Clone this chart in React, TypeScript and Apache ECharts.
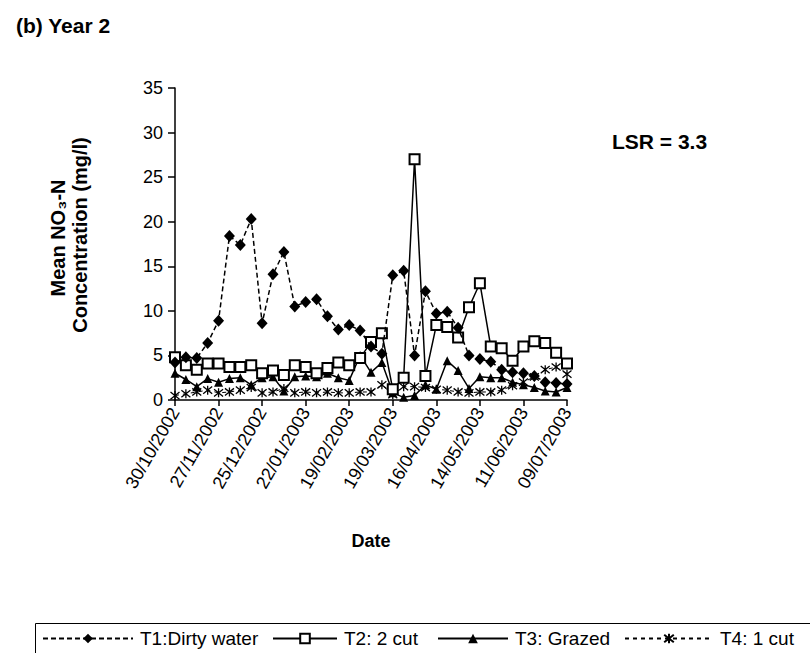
import React, { useEffect, useRef } from "react";
import * as echarts from "echarts";

// Sampling dates (dd/mm/yyyy)
const sampleDates = [
  "30/10/2002", "06/11/2002", "13/11/2002", "20/11/2002", "27/11/2002", "04/12/2002",
  "11/12/2002", "18/12/2002", "25/12/2002", "01/01/2003", "08/01/2003", "15/01/2003",
  "22/01/2003", "29/01/2003", "05/02/2003", "12/02/2003", "19/02/2003", "26/02/2003",
  "05/03/2003", "12/03/2003", "19/03/2003", "26/03/2003", "02/04/2003", "09/04/2003",
  "16/04/2003", "23/04/2003", "30/04/2003", "07/05/2003", "14/05/2003", "21/05/2003",
  "28/05/2003", "04/06/2003", "11/06/2003", "18/06/2003", "25/06/2003", "02/07/2003",
  "09/07/2003",
];

// Mean NO3-N concentration (mg/l)
const t1DirtyWater = [
  4.2, 4.8, 4.7, 6.4, 8.9, 18.4, 17.4, 20.3, 8.6, 14.1, 16.6, 10.5, 11.0, 11.3, 9.4,
  7.9, 8.4, 7.8, 6.0, 5.2, 14.0, 14.5, 5.0, 12.2, 9.7, 9.9, 8.1, 5.0, 4.6, 4.3, 3.4,
  3.1, 3.0, 2.7, 2.0, 1.9, 1.8,
];
const t2TwoCut = [
  4.8, 3.9, 3.4, 4.1, 4.1, 3.7, 3.7, 3.9, 3.0, 3.3, 2.8, 3.9, 3.7, 3.0, 3.6, 4.2, 3.9,
  4.7, 6.5, 7.5, 1.2, 2.5, 27.0, 2.7, 8.4, 8.2, 7.0, 10.4, 13.1, 6.0, 5.8, 4.4, 6.0,
  6.6, 6.4, 5.3, 4.1,
];
const t3Grazed = [
  3.0, 2.3, 1.5, 2.4, 2.0, 2.4, 2.5, 1.7, 2.5, 2.6, 1.0, 2.6, 2.7, 2.6, 3.0, 2.5, 2.2,
  5.0, 3.1, 4.2, 0.8, 0.3, 0.5, 1.7, 1.2, 4.4, 3.3, 1.3, 2.6, 2.5, 2.5, 2.0, 1.7, 1.4,
  1.0, 0.9, 1.4,
];
const t4OneCut = [
  0.5, 0.7, 0.9, 1.1, 0.8, 0.9, 1.1, 1.4, 0.8, 0.9, 1.3, 0.8, 0.9, 0.8, 0.9, 0.8, 0.8,
  0.9, 0.9, 1.7, 0.6, 1.5, 1.5, 1.4, 1.2, 1.1, 0.9, 0.8, 0.9, 0.9, 1.1, 1.6, 2.0, 2.6,
  3.4, 3.7, 2.9,
];

const seriesNames = ["T1:Dirty water", "T2: 2 cut", "T3: Grazed", "T4: 1 cut"];
const xTickStepDays = 28;
const yMin = 0;
const yMax = 35;
const yStep = 5;

const DAY = 86400000;
const START = Date.UTC(2002, 9, 30);

function toDay(s: string): number {
  const [d, m, y] = s.split("/").map(Number);
  return Math.round((Date.UTC(y, m - 1, d) - START) / DAY);
}
function fmtDay(days: number): string {
  const dt = new Date(START + days * DAY);
  const dd = String(dt.getUTCDate()).padStart(2, "0");
  const mm = String(dt.getUTCMonth() + 1).padStart(2, "0");
  return `${dd}/${mm}/${dt.getUTCFullYear()}`;
}

const FONT = "'Liberation Sans', Arial, sans-serif";
const STAR = "path://M1,1L9,9M9,1L1,9M5,0L5,10";

export default function App() {
  const ref = useRef<HTMLDivElement>(null);

  useEffect(() => {
    document.body.style.margin = "0";
    if (!ref.current) return;
    const chart = echarts.init(ref.current, undefined, { renderer: "svg" });
    const days = sampleDates.map(toDay);
    const pair = (vals: number[]) => vals.map((v, i) => [days[i], v]);
    const xMax = days[days.length - 1];

    const legendDefs = [
      { name: seriesNames[0], left: 42, w: 90 },
      { name: seriesNames[1], left: 272, w: 64 },
      { name: seriesNames[2], left: 437, w: 70 },
      { name: seriesNames[3], left: 624, w: 88 },
    ];

    chart.setOption({
      animation: false,
      backgroundColor: "#fff",
      textStyle: { fontFamily: FONT, color: "#000" },
      title: {
        text: "(b) Year 2",
        left: 11,
        top: 10,
        textStyle: { fontFamily: FONT, fontSize: 21, fontWeight: "bold", color: "#000" },
      },
      grid: { left: 175, right: 243, top: 88, bottom: 253 },
      xAxis: {
        type: "value",
        min: 0,
        max: xMax,
        interval: xTickStepDays,
        name: "Date",
        nameLocation: "middle",
        nameGap: 132,
        nameTextStyle: { fontFamily: FONT, fontSize: 18, fontWeight: "bold", color: "#000" },
        axisLine: { lineStyle: { color: "#000", width: 1.5 } },
        axisTick: { show: true, length: 6, lineStyle: { color: "#000", width: 1.5 } },
        splitLine: { show: false },
        axisLabel: {
          rotate: 60,
          margin: 9,
          fontSize: 18,
          fontFamily: FONT,
          color: "#000",
          formatter: (v: number) => fmtDay(v),
        },
      },
      yAxis: {
        type: "value",
        min: yMin,
        max: yMax,
        interval: yStep,
        axisLine: { show: true, lineStyle: { color: "#000", width: 1.5 } },
        axisTick: { show: true, length: 7, lineStyle: { color: "#000", width: 1.5 } },
        splitLine: { show: false },
        axisLabel: { fontSize: 18, fontFamily: FONT, color: "#000", margin: 12 },
      },
      legend: legendDefs.map((d) => ({
        data: [d.name],
        left: d.left,
        top: 629,
        itemWidth: d.w,
        itemHeight: 12,
        itemGap: 0,
        padding: 0,
        selectedMode: false,
        textStyle: { fontFamily: FONT, fontSize: 19, color: "#000", padding: [0, 0, 0, 2] },
      })),
      graphic: [
        {
          type: "rect",
          shape: { x: 35.5, y: 623.5, width: 790, height: 60 },
          style: { fill: "none", stroke: "#000", lineWidth: 1 },
          silent: true,
        },
        {
          type: "text",
          x: 58,
          y: 238,
          rotation: Math.PI / 2,
          style: {
            text: "Mean NO₃-N",
            font: `bold 20px ${FONT}`,
            fill: "#000",
            textAlign: "center",
            textVerticalAlign: "middle",
          },
        },
        {
          type: "text",
          x: 80,
          y: 235,
          rotation: Math.PI / 2,
          style: {
            text: "Concentration (mg/l)",
            font: `bold 20px ${FONT}`,
            fill: "#000",
            textAlign: "center",
            textVerticalAlign: "middle",
          },
        },
        {
          type: "text",
          x: 612,
          y: 141,
          style: {
            text: "LSR = 3.3",
            font: `bold 21px ${FONT}`,
            fill: "#000",
            textAlign: "left",
            textVerticalAlign: "middle",
          },
        },
      ],
      series: [
        {
          name: seriesNames[0],
          type: "line",
          data: pair(t1DirtyWater),
          symbol: "diamond",
          symbolSize: [11, 12],
          itemStyle: { color: "#000" },
          lineStyle: { color: "#000", width: 1.5, type: [5, 3] },
          z: 4,
        },
        {
          name: seriesNames[1],
          type: "line",
          data: pair(t2TwoCut),
          symbol: "emptyRect",
          symbolSize: 10,
          itemStyle: { color: "#000", borderWidth: 1.5 },
          lineStyle: { color: "#000", width: 1.5 },
          z: 3,
        },
        {
          name: seriesNames[2],
          type: "line",
          data: pair(t3Grazed),
          symbol: "triangle",
          symbolSize: 9,
          itemStyle: { color: "#000" },
          lineStyle: { color: "#000", width: 1.5 },
          z: 2,
        },
        {
          name: seriesNames[3],
          type: "line",
          data: pair(t4OneCut),
          symbol: STAR,
          symbolSize: 9,
          itemStyle: { color: "#000", borderColor: "#000", borderWidth: 1.3 },
          lineStyle: { color: "#000", width: 1, type: [4, 4] },
          z: 1,
        },
      ],
    });
    return () => chart.dispose();
  }, []);

  return <div ref={ref} style={{ width: 810, height: 653 }} />;
}
